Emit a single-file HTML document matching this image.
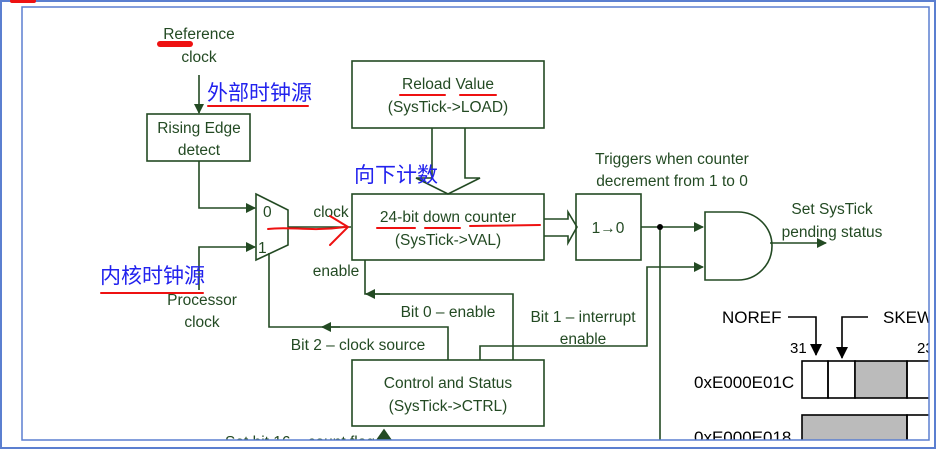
<!DOCTYPE html>
<html><head><meta charset="utf-8"><style>
html,body{margin:0;padding:0;background:#fff;}
svg{display:block;}
text{font-family:"Liberation Sans","Noto Sans CJK SC",sans-serif;}
</style></head><body>
<svg width="936" height="449" viewBox="0 0 936 449" xmlns="http://www.w3.org/2000/svg">
<defs>
<marker id="a" markerWidth="10" markerHeight="10" refX="9" refY="5" orient="auto" markerUnits="userSpaceOnUse">
<path d="M0,0 L10,5 L0,10 Z" fill="#234a23"/></marker>
<marker id="b" markerWidth="12" markerHeight="12" refX="11" refY="6" orient="auto" markerUnits="userSpaceOnUse">
<path d="M0,0 L12,6 L0,12 Z" fill="#000"/></marker>
<clipPath id="c"><rect x="22" y="7" width="907" height="433"/></clipPath>
</defs>
<rect x="1" y="1" width="934" height="447" fill="none" stroke="#5b7fd0" stroke-width="2"/>
<g clip-path="url(#c)">
<g stroke="#234a23" stroke-width="1.6" fill="none">
<rect x="147" y="114" width="103" height="47"/>
<rect x="352" y="61" width="192" height="67"/>
<rect x="352" y="194" width="192" height="66"/>
<rect x="352" y="360" width="192" height="66"/>
<rect x="576" y="194" width="65" height="66"/>
<path d="M256,194 L288,210 L288,245 L256,260 Z"/>
<line x1="199" y1="75" x2="199" y2="113" marker-end="url(#a)"/>
<polyline points="199,161 199,208 255,208" marker-end="url(#a)"/>
<polyline points="199,290 199,247 255,247" marker-end="url(#a)"/>
<line x1="288" y1="227" x2="351" y2="227"/>
<polyline points="269,253 269,327 448,327 448,360"/>
<line x1="340" y1="327" x2="322" y2="327" marker-end="url(#a)"/>
<polyline points="365,260 365,294 513,294 513,360"/>
<line x1="390" y1="294" x2="366" y2="294" marker-end="url(#a)"/>
<polyline points="480,360 480,346 647,346 647,267 703,267" marker-end="url(#a)"/>
<line x1="641" y1="227" x2="703" y2="227" marker-end="url(#a)"/>
<line x1="660" y1="227" x2="660" y2="440"/>
<path d="M705,212 L738,212 A34,34 0 0 1 738,280 L705,280 Z"/>
<line x1="770" y1="243" x2="826" y2="243" marker-end="url(#a)"/>
<path d="M432,128 L432,178 L416,178 L448,194 L480,178 L465,178 L465,128"/>
<path d="M544,219 L568,219 L568,212 L577,227 L568,243 L568,236 L544,236"/>
<path d="M377,440 L384,430 L391,440 Z" fill="#234a23"/>
</g>
<circle cx="660" cy="227" r="3" fill="#000"/>
<g stroke="#000" stroke-width="1.6" fill="none">
<polyline points="788,317 816,317 816,355" marker-end="url(#b)"/>
<polyline points="868,317 842,317 842,358" marker-end="url(#b)"/>
<rect x="802" y="361" width="26" height="37"/>
<rect x="828" y="361" width="27" height="37"/>
<rect x="855" y="361" width="52" height="37" fill="#bbb"/>
<rect x="907" y="361" width="30" height="37"/>
<rect x="802" y="415" width="105" height="30" fill="#bbb"/>
<rect x="907" y="415" width="30" height="30"/>
</g>
<g fill="#234a23" font-size="15.5" text-anchor="middle">
<text x="199" y="39">Reference</text>
<text x="199" y="62">clock</text>
<text x="199" y="133">Rising Edge</text>
<text x="199" y="155">detect</text>
<text x="263" y="217" text-anchor="start">0</text>
<text x="258" y="253" text-anchor="start">1</text>
<text x="202" y="305">Processor</text>
<text x="202" y="327">clock</text>
<text x="331" y="217">clock</text>
<text x="336" y="276">enable</text>
<text x="448" y="89">Reload Value</text>
<text x="448" y="112">(SysTick-&gt;LOAD)</text>
<text x="448" y="222">24-bit down counter</text>
<text x="448" y="245">(SysTick-&gt;VAL)</text>
<text x="448" y="388">Control and Status</text>
<text x="448" y="411">(SysTick-&gt;CTRL)</text>
<text x="448" y="317">Bit 0 – enable</text>
<text x="358" y="350">Bit 2 – clock source</text>
<text x="583" y="322">Bit 1 – interrupt</text>
<text x="583" y="344">enable</text>
<text x="608" y="233">1→0</text>
<text x="672" y="164">Triggers when counter</text>
<text x="672" y="186">decrement from 1 to 0</text>
<text x="832" y="214">Set SysTick</text>
<text x="832" y="237">pending status</text>
<text x="300" y="447">Set bit 16 – count flag</text>
</g>
<g fill="#000" font-size="17">
<text x="722" y="323">NOREF</text>
<text x="883" y="323">SKEW</text>
<text x="790" y="353" font-size="15">31</text>
<text x="917" y="353" font-size="15">23</text>
<text x="694" y="388">0xE000E01C</text>
<text x="694" y="443">0xE000E018</text>
</g>
<g fill="#2222ee" font-size="21" font-family="'Noto Sans CJK SC',sans-serif">
<text x="207" y="100">外部时钟源</text>
<text x="100" y="283">内核时钟源</text>
<text x="354" y="182">向下计数</text>
</g>
<g stroke="#ee1111" fill="none" stroke-linecap="round">
<line x1="160" y1="44" x2="190" y2="44" stroke-width="6"/>
<line x1="208" y1="106" x2="308" y2="106" stroke-width="2"/>
<line x1="101" y1="293" x2="203" y2="293" stroke-width="2"/>
<line x1="400" y1="95" x2="445" y2="95" stroke-width="2"/>
<line x1="460" y1="95" x2="496" y2="95" stroke-width="2"/>
<line x1="377" y1="228" x2="415" y2="228" stroke-width="2"/>
<line x1="425" y1="228" x2="460" y2="228" stroke-width="2"/>
<line x1="470" y1="226" x2="540" y2="225" stroke-width="2"/>
<path d="M268,229 C290,226 310,232 345,227 M330,216 L348,227 L330,245" stroke-width="2"/>
</g>
</g>
<rect x="22" y="7" width="907" height="433" fill="none" stroke="#5b7fd0" stroke-width="1.5"/>
<line x1="12" y1="1" x2="34" y2="1" stroke="#ee1111" stroke-width="4" stroke-linecap="round"/>
</svg>
</body></html>
